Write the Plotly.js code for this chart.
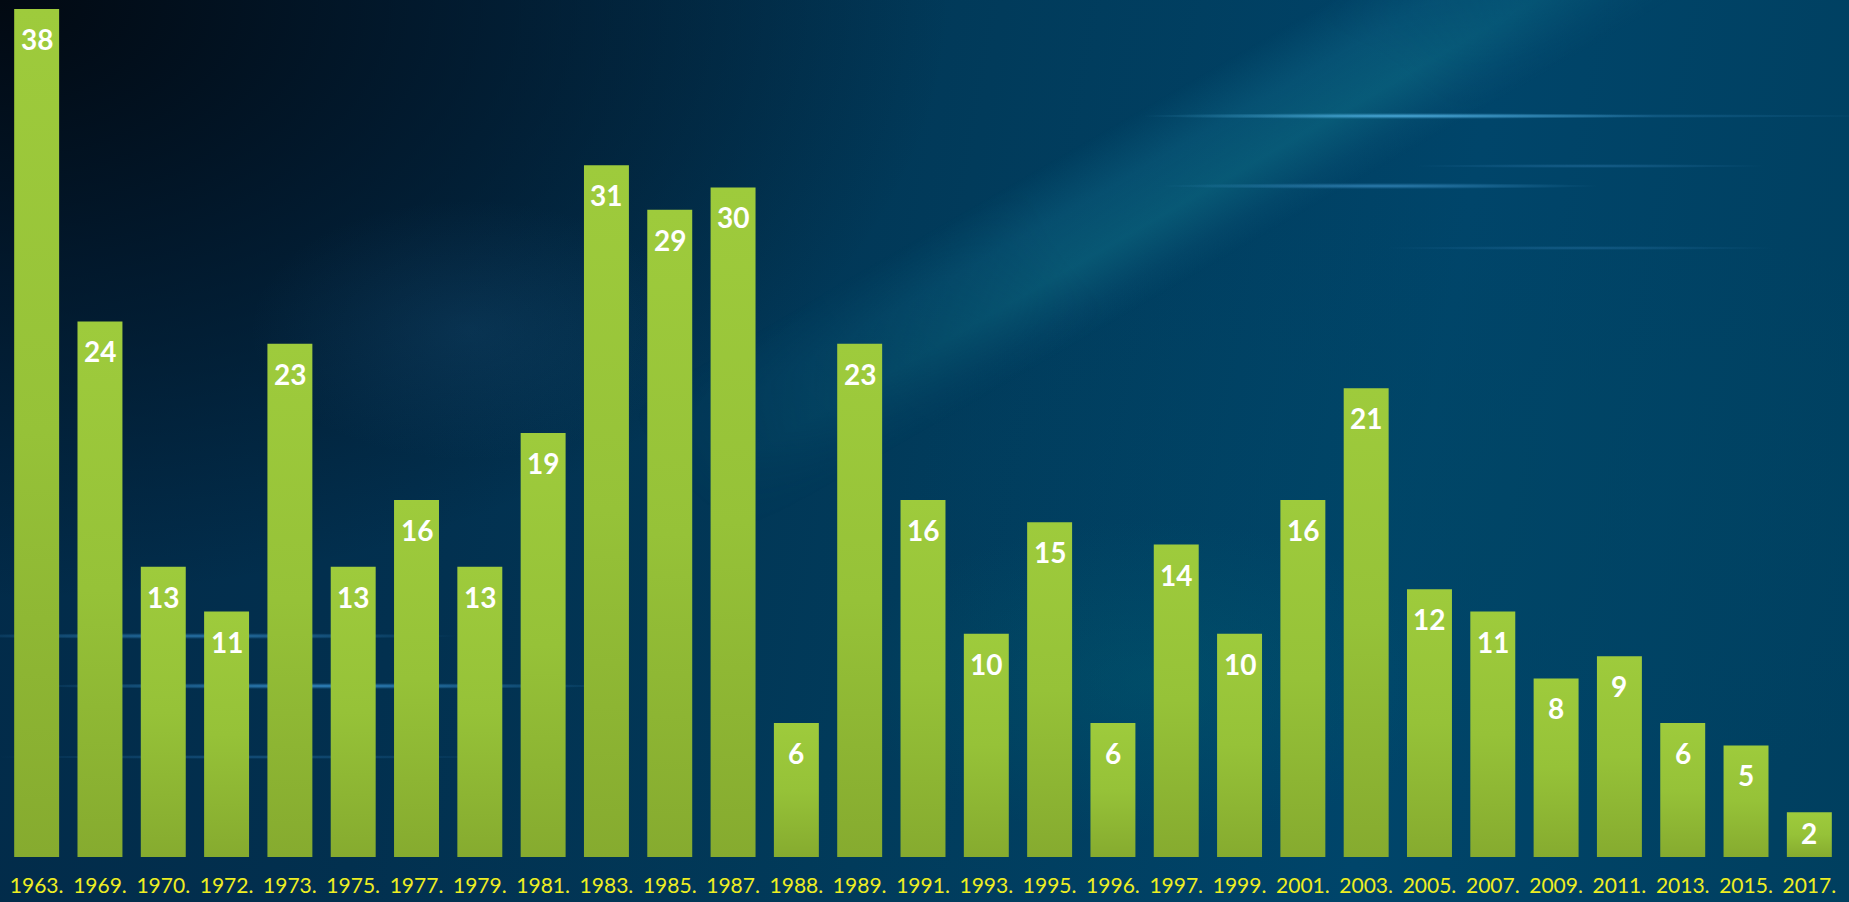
<!DOCTYPE html>
<html>
<head>
<meta charset="utf-8">
<script src="https://cdn.plot.ly/plotly-3.0.1.min.js"></script>
<style>
  html, body { margin: 0; padding: 0; width: 1849px; height: 902px; overflow: hidden; }
  body {
    position: relative;
    background:
      radial-gradient(ellipse 950px 600px at 0px 0px, rgba(2,8,16,0.97) 0%, rgba(2,14,28,0.65) 45%, rgba(0,0,0,0) 100%),
      radial-gradient(ellipse 600px 300px at 1500px 500px, rgba(0,70,100,0.5) 0%, rgba(0,0,0,0) 100%),
      linear-gradient(100deg, #022a48 0%, #02304f 25%, #013b5b 50%, #00456a 75%, #003f5f 100%);
  }
  .band {
    position: absolute; left: 0; top: 0; width: 1849px; height: 902px;
    background: linear-gradient(150deg, rgba(0,0,0,0) 0%, rgba(0,0,0,0) 39%, rgba(20,120,150,0.30) 42%, rgba(20,130,150,0.38) 45%, rgba(20,110,140,0.15) 47.5%, rgba(0,0,0,0) 49%, rgba(0,0,0,0) 100%);
    -webkit-mask-image: radial-gradient(ellipse 700px 520px at 1250px 180px, #000 30%, rgba(0,0,0,0) 100%);
    mask-image: radial-gradient(ellipse 700px 520px at 1250px 180px, #000 30%, rgba(0,0,0,0) 100%);
  }
  .streaks {
    position: absolute; left: 0; top: 0; width: 1849px; height: 902px;
    background:
      radial-gradient(ellipse 260px 3px at 1400px 116px, rgba(90,190,240,0.75) 0%, rgba(0,0,0,0) 100%),
      radial-gradient(ellipse 330px 2px at 1560px 116px, rgba(70,160,220,0.35) 0%, rgba(0,0,0,0) 100%),
      radial-gradient(ellipse 220px 3px at 1380px 186px, rgba(80,170,230,0.55) 0%, rgba(0,0,0,0) 100%),
      radial-gradient(ellipse 180px 2px at 1590px 166px, rgba(70,150,210,0.35) 0%, rgba(0,0,0,0) 100%),
      radial-gradient(ellipse 200px 2px at 1580px 248px, rgba(70,150,210,0.3) 0%, rgba(0,0,0,0) 100%),
      radial-gradient(ellipse 260px 3px at 200px 636px, rgba(70,170,240,0.55) 0%, rgba(0,0,0,0) 100%),
      radial-gradient(ellipse 300px 3px at 320px 686px, rgba(70,170,240,0.7) 0%, rgba(0,0,0,0) 100%),
      radial-gradient(ellipse 260px 2px at 250px 757px, rgba(60,150,220,0.35) 0%, rgba(0,0,0,0) 100%),
      radial-gradient(ellipse 220px 130px at 470px 330px, rgba(40,110,160,0.18) 0%, rgba(0,0,0,0) 100%),
      radial-gradient(ellipse 300px 160px at 1150px 680px, rgba(0,110,120,0.25) 0%, rgba(0,0,0,0) 100%);
  }
  #chart { position: absolute; left: 0; top: 0; width: 1849px; height: 902px; }
</style>
</head>
<body>
<div class="band"></div>
<div class="streaks"></div>
<div id="chart"></div>
<script>
const years = ["1963.", "1969.", "1970.", "1972.", "1973.", "1975.", "1977.", "1979.", "1981.", "1983.",
               "1985.", "1987.", "1988.", "1989.", "1991.", "1993.", "1995.", "1996.", "1997.", "1999.",
               "2001.", "2003.", "2005.", "2007.", "2009.", "2011.", "2013.", "2015.", "2017."];
const counts = [38, 24, 13, 11, 23, 13, 16, 13, 19, 31,
                29, 30, 6, 23, 16, 10, 15, 6, 14, 10,
                16, 21, 12, 11, 8, 9, 6, 5, 2];

const trace = {
  type: 'bar',
  x: years,
  y: counts,
  marker: { color: '#93bf36' },
  hoverinfo: 'x+y'
};

// annotations on a category axis: x given as the category index
const annotations = years.map((yr, i) => ({
  x: i,
  y: counts[i],
  xref: 'x',
  yref: 'y',
  text: String(counts[i]),
  showarrow: false,
  yanchor: 'middle',
  xanchor: 'center',
  yshift: counts[i] <= 2 ? -21 : -30,
  font: { family: 'Lato, "Noto Sans", sans-serif', size: 28, color: '#ffffff', weight: 'bold' }
}));

const layout = {
  width: 1849,
  height: 902,
  paper_bgcolor: 'rgba(0,0,0,0)',
  plot_bgcolor: 'rgba(0,0,0,0)',
  margin: { l: 5, r: 8, t: 0, b: 45 },
  bargap: 0.29,
  showlegend: false,
  xaxis: {
    type: 'category',
    range: [-0.5, years.length - 0.5],
    showgrid: false,
    zeroline: false,
    showline: false,
    ticks: '',
    automargin: false,
    ticklabelstandoff: 14,
    tickfont: { family: 'Lato, "Open Sans", sans-serif', size: 21, color: '#eeee22' }
  },
  yaxis: {
    range: [0, 38.4],
    showgrid: false,
    zeroline: false,
    showline: false,
    showticklabels: false,
    ticks: '',
    automargin: false
  },
  annotations: annotations
};

Plotly.newPlot('chart', [trace], layout, { displayModeBar: false, staticPlot: true }).then(() => {
  const svg = document.querySelector('#chart .main-svg');
  const defs = svg.querySelector('defs');
  const ns = 'http://www.w3.org/2000/svg';
  const grad = document.createElementNS(ns, 'linearGradient');
  grad.setAttribute('id', 'bargrad');
  grad.setAttribute('x1', '0'); grad.setAttribute('y1', '0');
  grad.setAttribute('x2', '0'); grad.setAttribute('y2', '1');
  [['0', '#9ecb3c'], ['0.5', '#96c238'], ['1', '#86ab2f']].forEach(([o, c]) => {
    const s = document.createElementNS(ns, 'stop');
    s.setAttribute('offset', o);
    s.setAttribute('stop-color', c);
    grad.appendChild(s);
  });
  defs.appendChild(grad);
  document.querySelectorAll('#chart .bars .point path').forEach(p => {
    p.style.fill = 'url(#bargrad)';
  });
});
</script>
</body>
</html>
